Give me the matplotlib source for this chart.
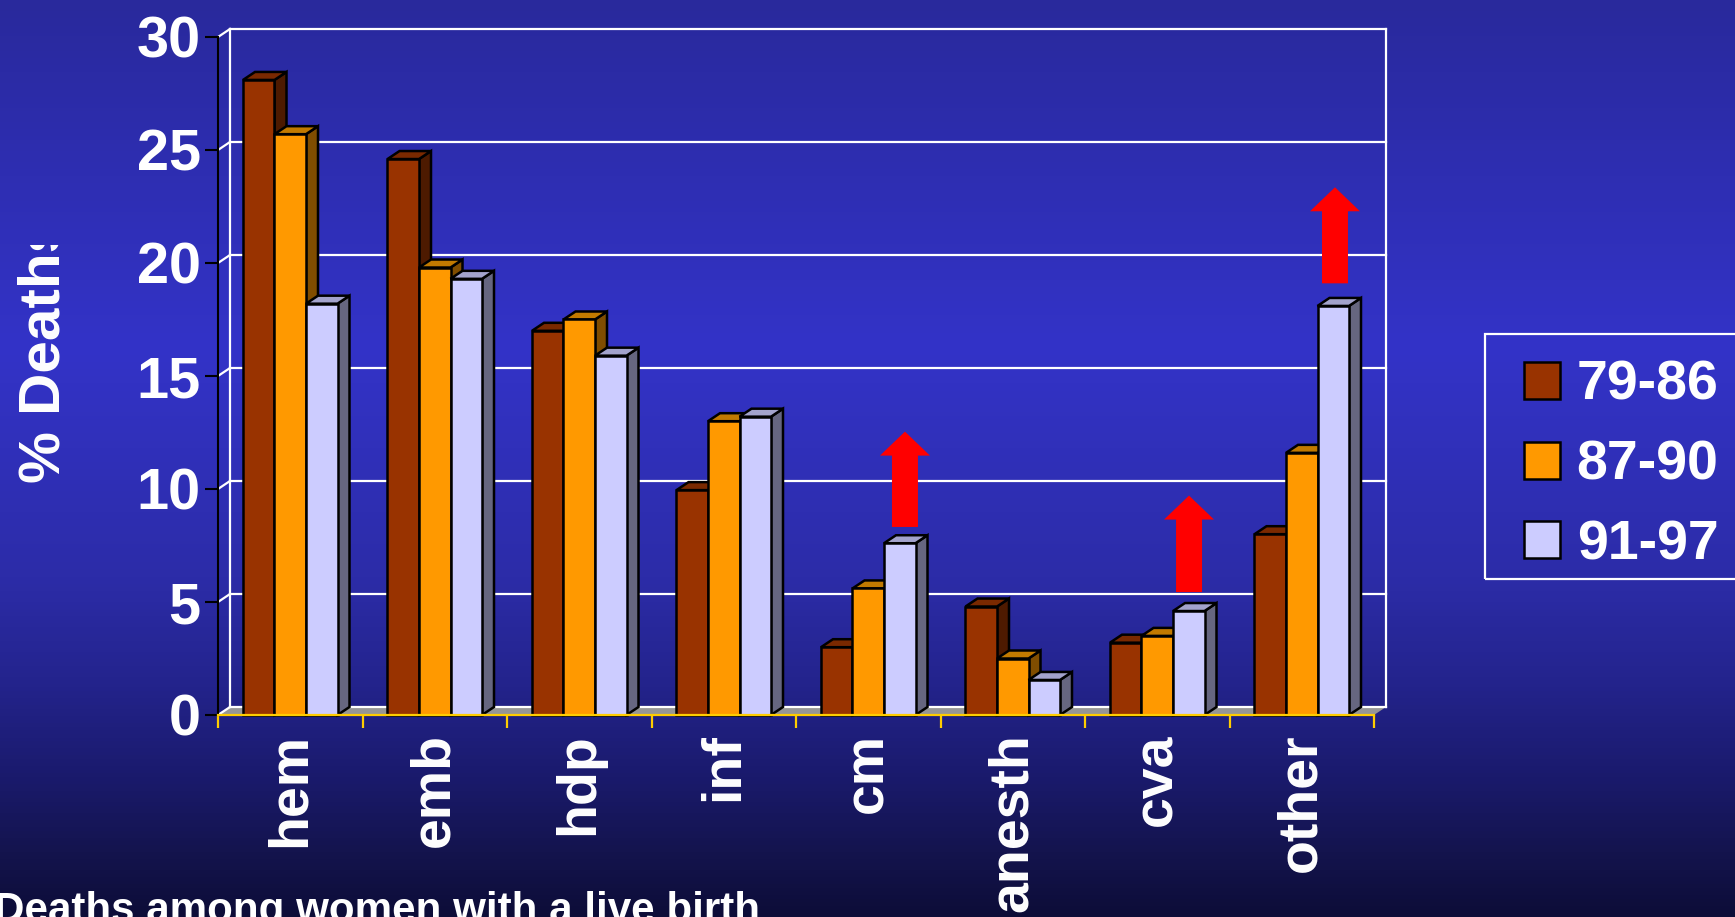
import numpy as np
import matplotlib
matplotlib.use('Agg')
import matplotlib.pyplot as plt
from matplotlib.colors import LinearSegmentedColormap
from matplotlib.patches import Patch, Polygon, Rectangle
from matplotlib.transforms import Bbox

categories = ['hem', 'emb', 'hdp', 'inf', 'cm', 'anesth', 'cva', 'other']
periods = ['79-86', '87-90', '91-97']
vals_79_86 = [28.1, 24.6, 17.0, 9.95, 3.0, 4.8, 3.2, 8.0]
vals_87_90 = [25.7, 19.8, 17.5, 13.0, 5.6, 2.5, 3.5, 11.6]
vals_91_97 = [18.2, 19.3, 15.9, 13.2, 7.6, 1.55, 4.6, 18.1]
y_ticks = [0, 5, 10, 15, 20, 25, 30]

# red arrows over the rising groups
arrow_x = [4.754, 6.72, 7.73]
arrow_bottom = [8.32, 5.44, 19.1]
arrow_tip = [12.54, 9.71, 23.35]

front_cols = ['#993300', '#FF9900', '#CCCCFF']
top_cols = ['#7A2900', '#C27A00', '#A3A3CC']
side_cols = ['#4D1A00', '#804D00', '#666680']

plt.rcParams['font.family'] = ['Liberation Sans', 'DejaVu Sans']
plt.rcParams['font.weight'] = 'bold'

W, H = 1735, 917
fig = plt.figure(figsize=(W / 100, H / 100), dpi=100)

# slide background
bg = fig.add_axes([0, 0, 1, 1], zorder=0)
bg_cmap = LinearSegmentedColormap.from_list('slide', [
    (0.0, '#29299C'), (0.38, '#3333C8'), (0.63, '#2C2CA8'),
    (0.74, '#24248E'), (0.85, '#1A1A6C'), (0.93, '#14144E'), (1.0, '#0D0D38')])
bg.imshow(np.linspace(0, 1, 917).reshape(-1, 1), aspect='auto', cmap=bg_cmap,
          vmin=0, vmax=1)
bg.axis('off')

ax = fig.add_axes([218 / W, (H - 715) / H, 1156 / W, 678 / H], zorder=1)
ax.patch.set_visible(False)
ax.set_xlim(0, 8)
ax.set_ylim(0, 30)

# depth of the fake 3d box, data units
dx = 12 / 144.5
dy = 8 / 22.6

for s in ['top', 'right']:
    ax.spines[s].set_visible(False)
ax.spines['left'].set_color('black')
ax.spines['left'].set_linewidth(1.5)
ax.spines['bottom'].set_color('#FFCC00')
ax.spines['bottom'].set_linewidth(1.6)
ax.spines['left'].set_zorder(2)
ax.spines['bottom'].set_zorder(30)

# back wall and floor
ax.add_patch(Polygon([[0, 0], [8, 0], [8 + dx, dy], [dx, dy]], closed=True,
                     facecolor='#969696', edgecolor='none', zorder=1.2, clip_on=False))
for t in y_ticks:
    ax.plot([dx, 8 + dx], [t + dy, t + dy], color='white', lw=1.6, zorder=1.5, clip_on=False)
    ax.plot([0, dx], [t, t + dy], color='white', lw=1.6, zorder=1.5, clip_on=False)
ax.plot([dx, dx], [dy, 30 + dy], color='white', lw=1.6, zorder=1.5, clip_on=False)
ax.plot([8 + dx, 8 + dx], [dy, 30 + dy], color='white', lw=1.6, zorder=1.5, clip_on=False)

# bars, drawn left to right so each one hides the side of the previous
bar_w = 0.218
series = [vals_79_86, vals_87_90, vals_91_97]
z = 5
for i in range(len(categories)):
    for j, vals in enumerate(series):
        x0 = i + 0.5 + (j - 1.5) * bar_w
        v = vals[i]
        ax.add_patch(Polygon([[x0 + bar_w, 0], [x0 + bar_w + dx, dy], [x0 + bar_w + dx, v + dy], [x0 + bar_w, v]],
                             closed=True, facecolor=side_cols[j], edgecolor='black', lw=1.8,
                             joinstyle='miter', zorder=z, clip_on=False))
        ax.add_patch(Polygon([[x0, v], [x0 + dx, v + dy], [x0 + bar_w + dx, v + dy], [x0 + bar_w, v]],
                             closed=True, facecolor=top_cols[j], edgecolor='black', lw=1.8,
                             joinstyle='miter', zorder=z, clip_on=False))
        ax.bar(x0, v, width=bar_w, align='edge', color=front_cols[j], edgecolor='black',
               linewidth=1.8, zorder=z + 0.5, clip_on=False)
        z += 1

# arrows
head_hw = 25 / 144.5
shaft_hw = 13 / 144.5
head_len = 24 / 22.6
for x, b, t in zip(arrow_x, arrow_bottom, arrow_tip):
    pts = [[x - shaft_hw, b], [x + shaft_hw, b], [x + shaft_hw, t - head_len],
           [x + head_hw, t - head_len], [x, t], [x - head_hw, t - head_len],
           [x - shaft_hw, t - head_len]]
    ax.add_patch(Polygon(pts, closed=True, facecolor='#FF0000', edgecolor='none',
                         zorder=z + 1, clip_on=False))

# ticks
ax.set_yticks(y_ticks)
ax.tick_params(axis='y', length=9.4, width=1.5, color='black', labelcolor='white',
               labelsize=41.5, pad=3)
ax.set_xticks(np.arange(len(categories)) + 0.5)
ax.set_xticklabels(categories, rotation=90)
ax.tick_params(axis='x', length=0, labelcolor='white', labelsize=40, pad=13)
ax.set_xticks(np.arange(len(categories) + 1), minor=True)
ax.tick_params(axis='x', which='minor', length=9.4, width=1.6, color='#FFCC00')

# axis title, cut off at its top end
ylab = fig.text(17 / W, (H - 483) / H, '% Deaths', rotation=90, color='white', fontsize=42,
                ha='left', va='bottom', rotation_mode='default')
ylab.set_clip_box(Bbox([[0, 0], [120, H - 245]]))
ylab.set_clip_on(True)

fig.text(-6 / W, (H - 922) / H, 'Deaths among women with a live birth', color='white',
         fontsize=30.3, ha='left', va='baseline')

# legend box runs past the right edge, so its frame is drawn separately
fig.add_artist(Rectangle((1485 / W, (H - 579) / H), 290 / W, 245 / H, transform=fig.transFigure,
                         facecolor='none', edgecolor='white', linewidth=1.6, zorder=2))
handles = [Patch(facecolor=c, edgecolor='black', linewidth=1.8) for c in front_cols]
leg = fig.legend(handles, periods, loc='upper left', bbox_to_anchor=(1485 / W, (H - 321) / H),
                 borderaxespad=0, fontsize=40, frameon=False, labelcolor='white',
                 handlelength=0.65, handleheight=0.65, handletextpad=0.3, labelspacing=0.5,
                 borderpad=0.7)

fig.savefig('out.png', dpi=100)
